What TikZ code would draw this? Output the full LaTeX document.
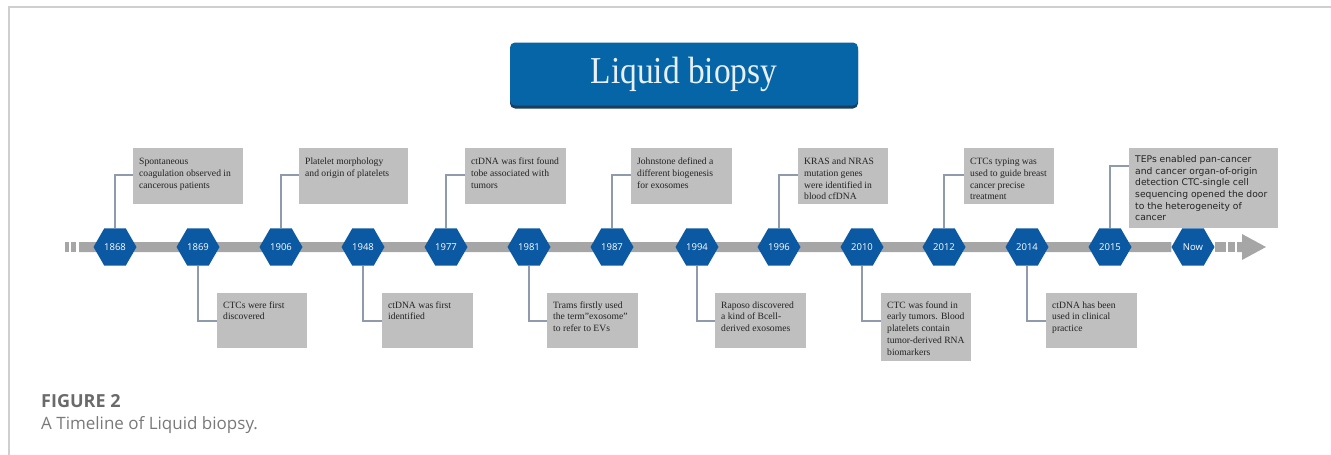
\documentclass[tikz,border=0pt]{standalone}
\usepackage{fontspec}
\setmainfont{Liberation Serif}
\newfontfamily\sansfont{Open Sans}
\newfontfamily\boxsans{DejaVu Sans}
\newfontfamily\titlefont[FakeStretch=0.88]{Liberation Serif}
\usetikzlibrary{shapes.geometric,backgrounds,shadows}
\definecolor{hexblue}{HTML}{0C59A3}
\definecolor{titleblue}{HTML}{0565A6}
\definecolor{titledark}{HTML}{183E60}
\definecolor{bargray}{HTML}{A6A6A6}
\definecolor{boxgray}{HTML}{BFBFBF}
\definecolor{linkgray}{HTML}{8F9AAC}
\definecolor{txtgray}{HTML}{232323}
\definecolor{framegray}{HTML}{CFCFCF}
\definecolor{capgray}{HTML}{6A6A6A}
\newcommand{\evtext}[4][15pt]{\parbox[c][#3][t]{#2}{\rule{0pt}{#1}\begin{tabular}[t]{@{}l@{}}#4\end{tabular}}}
\tikzset{
  hexa/.style={regular polygon, regular polygon sides=6, minimum size=43pt,
    inner sep=0pt, fill=hexblue, text=white, font=\sansfont\fontsize{9.5}{10}\selectfont},
  event/.style={fill=boxgray, inner xsep=6pt, inner ysep=0pt, anchor=north west,
    text=txtgray, font=\fontsize{9.6}{11.7}\selectfont},
  link/.style={draw=linkgray, line width=1.3pt},
  bar/.style={draw=bargray, line width=10pt},
  titlebox/.style={fill=titleblue, rounded corners=5pt, minimum width=348pt,
    minimum height=63pt, text=white!90!titleblue, font=\titlefont\fontsize{38}{40}\selectfont,
    drop shadow={shadow xshift=0pt, shadow yshift=-3pt, fill=titledark, opacity=1}}
}
\begin{document}
\begin{tikzpicture}[x=1pt,y=-1pt]
  \useasboundingbox (0,0) rectangle (1331,455);
  % page frame
  \draw[framegray, line width=1.5pt] (9,455) -- (9,7) -- (1331,7);

  % title
  \node[titlebox] (title) at (684,74) {Liquid biopsy};

  % years on the time line
  \foreach \yr/\px in {1868/115, 1869/198, 1906/281, 1948/363, 1977/446, 1981/529,
      1987/612, 1994/697, 1996/779, 2010/862, 2012/944, 2014/1027, 2015/1110}
    \node[hexa] (h\yr) at (\px,247) {\yr};
  \node[hexa] (hNow) at (1193,247) {Now};

  % bar behind the years
  \coordinate (barL) at (79,247);
  \begin{scope}[on background layer]
    \draw[bar] (barL) -- (hNow);
  \end{scope}
  \fill[bargray] (65,242) rectangle (69,252);
  \fill[bargray] (71,242) rectangle (76,252);
  \fill[bargray] (1215,242) rectangle (1226,252);
  \fill[bargray] (1228,242) rectangle (1235,252);
  \fill[bargray] (1237,242) -- (1242,242) -- (1242,234) -- (1266,247)
    -- (1242,260) -- (1242,252) -- (1237,252) -- cycle;

  % events above the line
  \node[event] (b1868) at (133,148) {\evtext[16.5pt]{98pt}{56pt}{Spontaneous\\coagulation observed in\\cancerous patients}};
  \node[event] (b1906) at (299,148) {\evtext[16.5pt]{97pt}{56pt}{Platelet morphology\\and origin of platelets}};
  \node[event] (b1977) at (465,148) {\evtext[16.5pt]{89pt}{56pt}{ctDNA was first found\\tobe associated with\\tumors}};
  \node[event] (b1987) at (631,148) {\evtext[16.5pt]{89pt}{56pt}{Johnstone defined a\\different biogenesis\\for exosomes}};
  \node[event] (b1996) at (798,148) {\evtext[16.5pt]{78pt}{56pt}{KRAS and NRAS\\mutation genes\\were identified in\\blood cfDNA}};
  \node[event] (b2012) at (964,148) {\evtext[16.5pt]{78pt}{56pt}{CTCs typing was\\used to guide breast\\cancer precise\\treatment}};
  \node[event, font=\boxsans\fontsize{9.2}{11.6}\selectfont] (b2015) at (1129,148)
    {\evtext[14.5pt]{137pt}{80pt}{TEPs enabled pan-cancer\\and cancer organ-of-origin\\detection CTC-single cell\\sequencing opened the door\\to the heterogeneity of\\cancer}};

  \draw[link] (h1868.north) |- ([yshift=-27pt]b1868.north west);
  \draw[link] (h1906.north) |- ([yshift=-27pt]b1906.north west);
  \draw[link] (h1977.north) |- ([yshift=-27pt]b1977.north west);
  \draw[link] (h1987.north) |- ([yshift=-27pt]b1987.north west);
  \draw[link] (h1996.north) |- ([yshift=-27pt]b1996.north west);
  \draw[link] (h2012.north) |- ([yshift=-27pt]b2012.north west);
  \draw[link] (h2015.north) |- ([yshift=-18pt]b2015.north west);

  % events below the line
  \node[event] (b1869) at (217,293) {\evtext{78pt}{55pt}{CTCs were first\\discovered}};
  \node[event] (b1948) at (382,293) {\evtext{79pt}{55pt}{ctDNA was first\\identified}};
  \node[event] (b1981) at (547,293) {\evtext{79pt}{55pt}{Trams firstly used\\the term"exosome"\\to refer to EVs}};
  \node[event] (b1994) at (715,293) {\evtext{79pt}{55pt}{Raposo discovered\\a kind of Bcell-\\derived exosomes}};
  \node[event] (b2010) at (881,293) {\evtext{78pt}{68pt}{CTC was found in\\early tumors. Blood\\platelets contain\\tumor-derived RNA\\biomarkers}};
  \node[event] (b2014) at (1046,293) {\evtext{79pt}{55pt}{ctDNA has been\\used in clinical\\practice}};

  \draw[link] (h1869.south) |- ([yshift=-28pt]b1869.north west);
  \draw[link] (h1948.south) |- ([yshift=-28pt]b1948.north west);
  \draw[link] (h1981.south) |- ([yshift=-28pt]b1981.north west);
  \draw[link] (h1994.south) |- ([yshift=-28pt]b1994.north west);
  \draw[link] (h2010.south) |- ([yshift=-28pt]b2010.north west);
  \draw[link] (h2014.south) |- ([yshift=-28pt]b2014.north west);

  % caption
  \node[anchor=base west, inner sep=0pt, text=capgray, font=\sansfont\bfseries\fontsize{18}{20}\selectfont] (figlbl) at (41,407) {FIGURE 2};
  \node[anchor=base west, inner sep=0pt, text=capgray!90, font=\sansfont\fontsize{17}{20}\selectfont] (figcap) at (41,429) {A Timeline of Liquid biopsy.};
\end{tikzpicture}
\end{document}
